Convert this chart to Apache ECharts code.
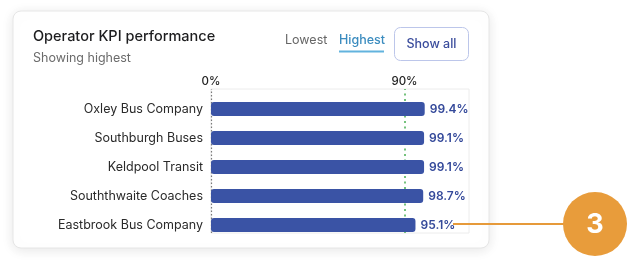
<!DOCTYPE html>
<html>
<head>
<meta charset="utf-8">
<script src="https://cdn.jsdelivr.net/npm/echarts@6/dist/echarts.min.js"></script>
<style>
html,body{margin:0;padding:0;background:#fff;}
#c{width:627px;height:265px;}
</style>
</head>
<body>
<div id="c"></div>
<script>
const categories = ['Oxley Bus Company', 'Southburgh Buses', 'Keldpool Transit', 'Souththwaite Coaches', 'Eastbrook Bus Company'];
const kpiValues = [99.4, 99.1, 99.1, 98.7, 95.1];
const tickLabels = [0, 90];
const targetValue = 90;
const calloutNumber = '3';

const FONT = 'Inter, "Open Sans", sans-serif';
const chart = echarts.init(document.getElementById('c'));

chart.setOption({
  animation: false,
  backgroundColor: '#ffffff',
  textStyle: { fontFamily: FONT },
  title: {
    text: 'Operator KPI performance',
    subtext: 'Showing highest',
    left: 33, top: 29, padding: 0,
    itemGap: 8,
    textStyle: { fontFamily: FONT, fontSize: 14.5, fontWeight: 500, color: '#1d1d1f' },
    subtextStyle: { fontFamily: FONT, fontSize: 12.5, color: '#6b6b6b' }
  },
  grid: [
    { left: 211, right: 158, top: 89, height: 144, show: true, borderColor: '#ececec', borderWidth: 1, backgroundColor: 'transparent' },
    { left: 211, right: 158, top: 94.5, height: 145 }
  ],
  xAxis: [
    {
      gridIndex: 0, type: 'value', position: 'top', min: 0, max: 120, interval: 30,
      axisLine: { show: false }, axisTick: { show: false }, splitLine: { show: false },
      axisLabel: {
        margin: 1, fontSize: 11.5, color: '#222', fontWeight: 500,
        formatter: v => tickLabels.indexOf(v) >= 0 ? v + '%' : ''
      }
    },
    { gridIndex: 1, type: 'value', min: 0, max: 120, show: false }
  ],
  yAxis: [
    { gridIndex: 0, type: 'value', min: 0, max: 1, show: false },
    {
      gridIndex: 1, type: 'category', data: categories, inverse: true,
      axisLine: { show: false }, axisTick: { show: false },
      axisLabel: { margin: 8, fontSize: 12.5, color: '#2a2a2a', fontFamily: FONT }
    }
  ],
  series: [
    {
      type: 'scatter', xAxisIndex: 0, yAxisIndex: 0, data: [], silent: true,
      markLine: {
        symbol: 'none', silent: true, label: { show: false },
        data: [
          { xAxis: 0, lineStyle: { color: '#7a7a7a', type: [1.5, 2], width: 1.2 } },
          { xAxis: targetValue, lineStyle: { color: '#74c27c', type: [2, 3.5], width: 2 } }
        ]
      }
    },
    {
      type: 'bar', xAxisIndex: 1, yAxisIndex: 1, data: kpiValues, barWidth: 14, z: 5,
      itemStyle: { color: '#3a53a5', borderRadius: 3 },
      label: {
        show: true, position: 'right', distance: 5,
        formatter: p => p.value + '%',
        fontSize: 12, fontWeight: 600, color: '#34499a', fontFamily: FONT
      }
    }
  ],
  graphic: [
    {
      type: 'rect', z: -10, silent: true,
      shape: { x: 13, y: 11, width: 476, height: 237, r: 8 },
      style: { fill: '#fff', stroke: '#e6e6e6', lineWidth: 1, shadowBlur: 12, shadowColor: 'rgba(0,0,0,0.10)', shadowOffsetY: 2 }
    },
    {
      type: 'text', left: 285, top: 34, silent: true,
      style: { text: 'Lowest', fontSize: 12.5, fill: '#666', fontFamily: FONT }
    },
    {
      type: 'text', left: 339, top: 34, silent: true,
      style: { text: 'Highest', fontSize: 12.5, fill: '#3b8cbf', fontWeight: 500, fontFamily: FONT }
    },
    {
      type: 'rect', silent: true,
      shape: { x: 339, y: 50.5, width: 45, height: 2 },
      style: { fill: '#62b3de' }
    },
    {
      type: 'rect', silent: true,
      shape: { x: 394.5, y: 27.5, width: 74, height: 33, r: 6 },
      style: { fill: '#fff', stroke: '#bcc6ea', lineWidth: 1 }
    },
    {
      type: 'text', silent: true, x: 431.5, y: 44.5,
      style: { text: 'Show all', fontSize: 12.5, fill: '#3a4c9c', fontWeight: 500, fontFamily: FONT, align: 'center', verticalAlign: 'middle' }
    },
    {
      type: 'line', silent: true,
      shape: { x1: 453, y1: 224, x2: 566, y2: 224 },
      style: { stroke: '#e69a3a', lineWidth: 2 }
    },
    {
      type: 'circle', silent: true,
      shape: { cx: 595, cy: 224, r: 32 },
      style: { fill: '#e89c3b' }
    },
    {
      type: 'text', silent: true, x: 595, y: 225,
      style: { text: calloutNumber, fontSize: 27, fontWeight: 700, fill: '#fff', fontFamily: FONT, align: 'center', verticalAlign: 'middle' }
    }
  ]
});
</script>
</body>
</html>
